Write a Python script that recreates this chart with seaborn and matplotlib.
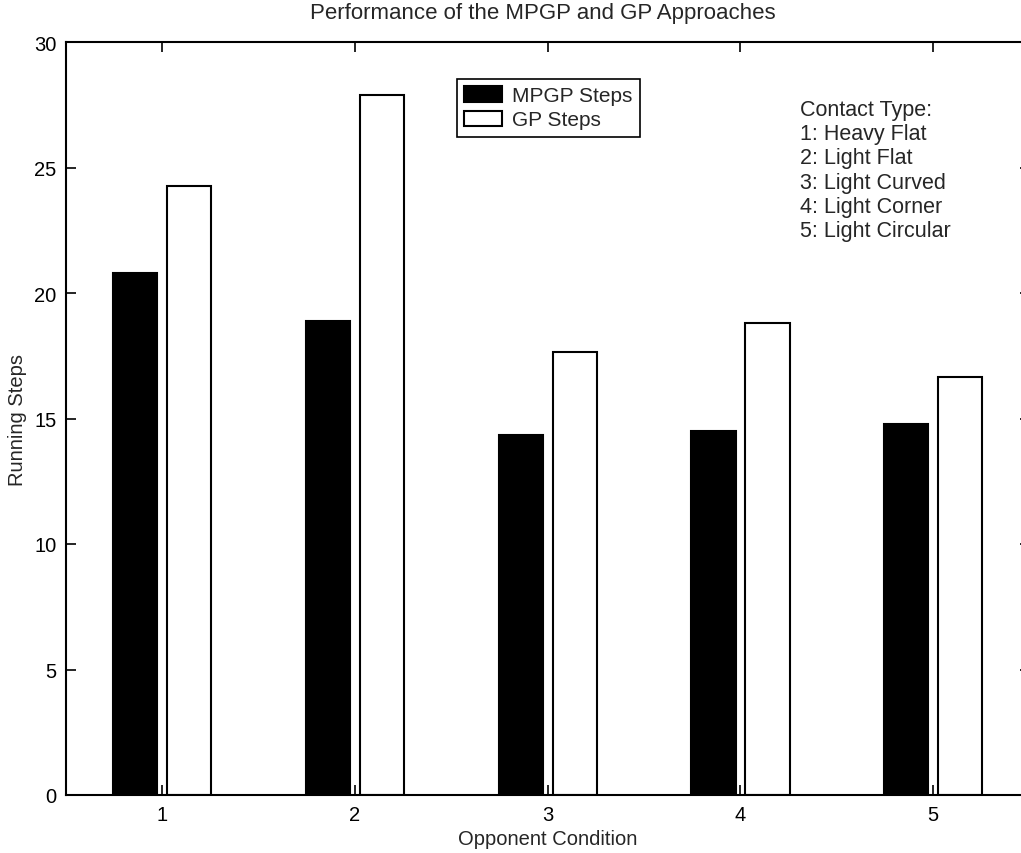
import matplotlib
matplotlib.use("Agg")
import matplotlib.pyplot as plt
import seaborn as sns
import pandas as pd

conditions = ["1", "2", "3", "4", "5"]
mpgp_steps = [20.8, 18.9, 14.35, 14.5, 14.8]
gp_steps = [24.25, 27.9, 17.65, 18.8, 16.65]
series_names = ["MPGP Steps", "GP Steps"]
contact_types = ["Heavy Flat", "Light Flat", "Light Curved", "Light Corner", "Light Circular"]
y_ticks = [0, 5, 10, 15, 20, 25, 30]

sns.set_style("ticks")
plt.rcParams["font.family"] = ["Liberation Sans", "DejaVu Sans"]
plt.rcParams["xtick.direction"] = "in"
plt.rcParams["ytick.direction"] = "in"

df = pd.DataFrame({
    "Opponent Condition": conditions * 2,
    "Method": [series_names[0]] * len(conditions) + [series_names[1]] * len(conditions),
    "Running Steps": mpgp_steps + gp_steps,
})

fig = plt.figure(figsize=(10.21, 8.54), dpi=100)
ax = fig.add_axes([66 / 1021, 1 - 796 / 854, 963.5 / 1021, 753 / 854])

sns.barplot(
    data=df, x="Opponent Condition", y="Running Steps", hue="Method",
    hue_order=series_names, order=conditions,
    palette={series_names[0]: "black", series_names[1]: "white"},
    edgecolor="black", linewidth=1.5, width=0.56, gap=0.18,
    errorbar=None, ax=ax,
)

ax.set_xlim(-0.5, 4.5)
ax.set_ylim(0, 30)
ax.set_yticks(y_ticks)
for s in ax.spines.values():
    s.set_visible(True)
    s.set_linewidth(1.5)
    s.set_color("black")
ax.tick_params(axis="both", which="both", direction="in", length=7, width=1.2,
               top=True, right=True, labelsize=14.5, colors="black", pad=7)
ax.set_xlabel("Opponent Condition", fontsize=14.5, labelpad=4)
ax.set_ylabel("Running Steps", fontsize=14.5, labelpad=5)

fig.text(543 / 1021, 1 - 13 / 854, "Performance of the MPGP and GP Approaches",
         ha="center", va="center", fontsize=16)

leg = ax.legend(loc="upper left", bbox_to_anchor=((457 - 66) / 963.5, (796 - 80) / 753),
                borderaxespad=0, fontsize=15, frameon=True, fancybox=False,
                handlelength=1.8, handleheight=0.75, handletextpad=0.5,
                labelspacing=0.25, borderpad=0.35, edgecolor="black")
leg.get_frame().set_linewidth(1.2)
leg.get_frame().set_alpha(1)

info = "Contact Type:\n" + "\n".join(f"{i + 1}: {name}" for i, name in enumerate(contact_types))
ax.text((800 - 66) / 963.5, (796 - 100) / 753, info, transform=ax.transAxes,
        ha="left", va="top", fontsize=15.5, linespacing=1.2)

fig.savefig("out.png", dpi=100, facecolor="white")
